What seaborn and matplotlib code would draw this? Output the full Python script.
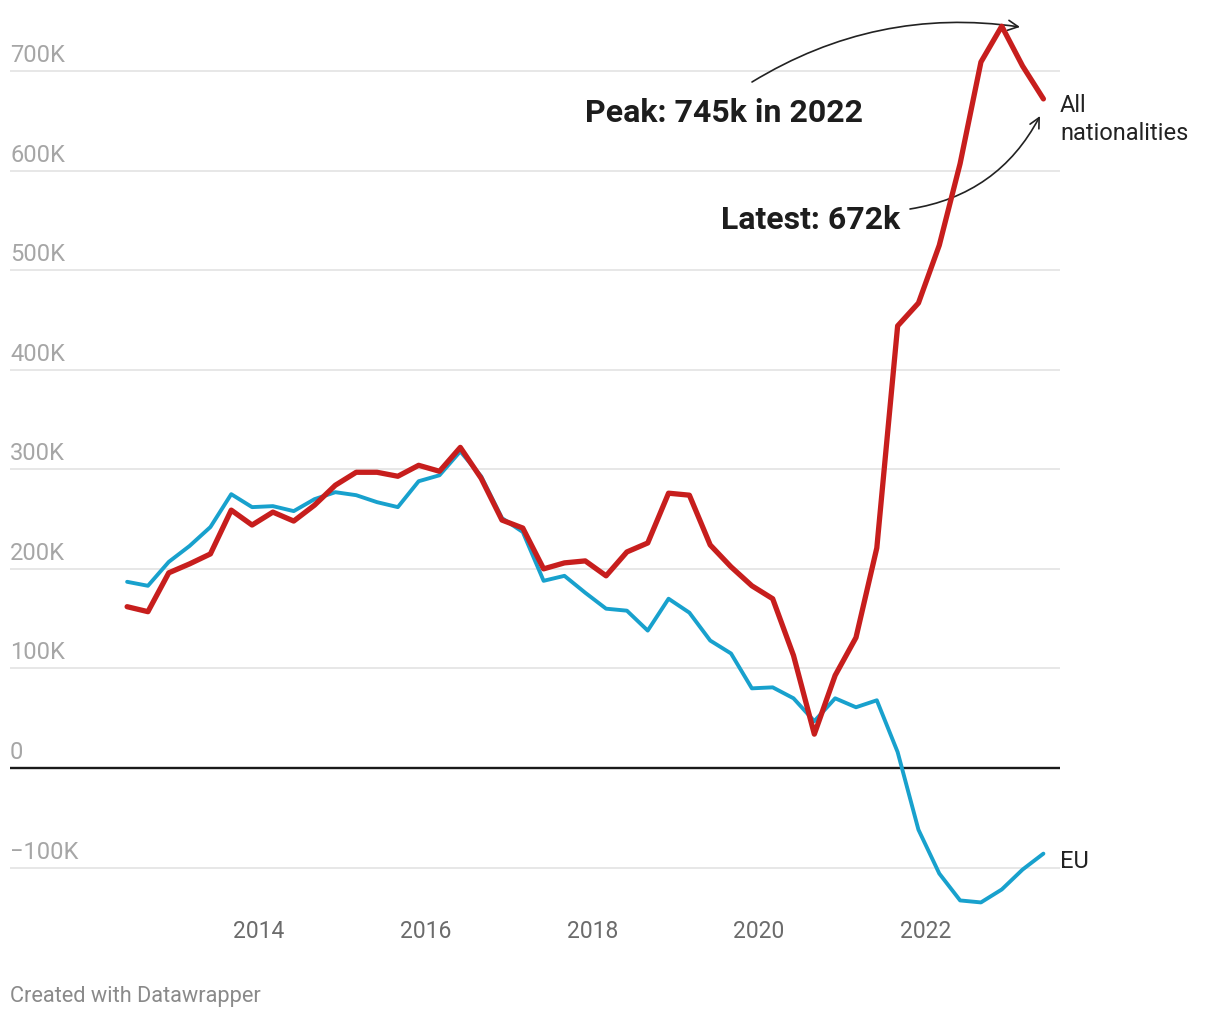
import matplotlib
matplotlib.use("Agg")
import matplotlib.pyplot as plt
import matplotlib.transforms as mtransforms
import seaborn as sns
import pandas as pd

# ---- data (thousands) ----
periods = ["2012-06", "2012-09", "2012-12", "2013-03", "2013-06", "2013-09", "2013-12",
           "2014-03", "2014-06", "2014-09", "2014-12", "2015-03", "2015-06", "2015-09",
           "2015-12", "2016-03", "2016-06", "2016-09", "2016-12", "2017-03", "2017-06",
           "2017-09", "2017-12", "2018-03", "2018-06", "2018-09", "2018-12", "2019-03",
           "2019-06", "2019-09", "2019-12", "2020-03", "2020-06", "2020-09", "2020-12",
           "2021-03", "2021-06", "2021-09", "2021-12", "2022-03", "2022-06", "2022-09",
           "2022-12", "2023-03", "2023-06"]
all_nationalities = [162, 157, 196, 205, 215, 259, 244, 257, 248, 264, 284, 297, 297, 293,
                     304, 298, 322, 291, 249, 241, 200, 206, 208, 193, 217, 226, 276, 274,
                     224, 202, 183, 170, 113, 34, 93, 131, 221, 444, 467, 525, 607, 709,
                     745, 705, 672]
eu = [187, 183, 207, 223, 242, 275, 262, 263, 258, 270, 277, 274, 267, 262, 288, 294, 318,
      293, 251, 237, 188, 193, 176, 160, 158, 138, 170, 156, 128, 115, 80, 81, 70, 47, 70,
      61, 68, 16, -62, -106, -133, -135, -122, -102, -86]
y_ticks = [-100, 0, 100, 200, 300, 400, 500, 600, 700]
y_tick_labels = ["\u2212100K", "0", "100K", "200K", "300K", "400K", "500K", "600K", "700K"]
x_ticks = [2014, 2016, 2018, 2020, 2022]
x_tick_labels = ["2014", "2016", "2018", "2020", "2022"]

def dec_year(p):
    y, m = p.split("-")
    return int(y) + (int(m) - 1) / 12.0

df = pd.DataFrame({
    "t": [dec_year(p) for p in periods] * 2,
    "value": all_nationalities + eu,
    "series": ["All nationalities"] * len(periods) + ["EU"] * len(periods),
})

sns.set_theme(style="white")
plt.rcParams["font.family"] = ["Roboto", "DejaVu Sans"]

W, H = 1220, 1020
fig = plt.figure(figsize=(W / 100, H / 100), dpi=100)

def fx(px):
    return px / W

def fy(py):
    return 1 - py / H

ax_left, ax_right, ax_top, ax_bottom = 10, 1060, 15, 912
ax = fig.add_axes([fx(ax_left), fy(ax_bottom), fx(ax_right - ax_left), (ax_bottom - ax_top) / H])

# x mapping: 2014 at px 259, 83.3 px per year
ppy = 83.3
ax.set_xlim(2014 + (ax_left - 259) / ppy, 2014 + (ax_right - 259) / ppy)
ppk = 0.9957
ax.set_ylim((769 - ax_bottom) / ppk, (769 - ax_top) / ppk)

for v in y_ticks:
    if v == 0:
        continue
    ax.axhline(v, color="#e3e3e3", lw=1.2, zorder=0)
ax.axhline(0, color="#1a1a1a", lw=1.7, zorder=1)

red = "#c71e1d"
blue = "#18a1cd"
sns.lineplot(data=df[df.series == "EU"], x="t", y="value", color=blue, lw=2.8,
             ax=ax, legend=False, zorder=3)
sns.lineplot(data=df[df.series == "All nationalities"], x="t", y="value", color=red, lw=3.8,
             ax=ax, legend=False, zorder=4)

for s in ax.spines.values():
    s.set_visible(False)
ax.set_xlabel("")
ax.set_ylabel("")
ax.set_yticks([])
ax.set_xticks(x_ticks)
ax.set_xticklabels(x_tick_labels)
ax.tick_params(axis="x", length=0, pad=5.5, labelsize=16.5, labelcolor="#6b6b6b")

blend = mtransforms.blended_transform_factory(ax.transAxes, ax.transData)
for v, lbl in zip(y_ticks, y_tick_labels):
    ax.annotate(lbl, xy=(0, v), xycoords=blend, xytext=(0, 5), textcoords="offset pixels",
                ha="left", va="bottom", fontsize=17, color="#a6a6a6")

# series labels
fig.text(fx(1060), fy(106), "All", ha="left", va="center", fontsize=17, color="#222222")
fig.text(fx(1060), fy(134), "nationalities", ha="left", va="center", fontsize=17, color="#222222")
fig.text(fx(1060), fy(862), "EU", ha="left", va="center", fontsize=17, color="#222222")

# annotations
fig.text(fx(585), fy(113), "Peak: 745k in 2022", ha="left", va="center", fontsize=23,
         fontweight="bold", color="#1d1d1d")
fig.text(fx(900), fy(220), "Latest: 672k", ha="right", va="center", fontsize=23,
         fontweight="bold", color="#1d1d1d")
ax.annotate("", xy=(fx(1020), fy(28)), xycoords="figure fraction",
            xytext=(fx(752), fy(83)), textcoords="figure fraction",
            arrowprops=dict(arrowstyle="->", color="#222222", lw=1.2,
                            connectionstyle="arc3,rad=-0.18", mutation_scale=18,
                            shrinkA=0, shrinkB=0))
ax.annotate("", xy=(fx(1040), fy(117)), xycoords="figure fraction",
            xytext=(fx(910), fy(210)), textcoords="figure fraction",
            arrowprops=dict(arrowstyle="->", color="#222222", lw=1.2,
                            connectionstyle="arc3,rad=0.25", mutation_scale=18,
                            shrinkA=0, shrinkB=0))

fig.text(fx(10), fy(997), "Created with Datawrapper", ha="left", va="center", fontsize=15.7,
         color="#8a8a8a")

fig.savefig("out.png", dpi=100, facecolor="white")
